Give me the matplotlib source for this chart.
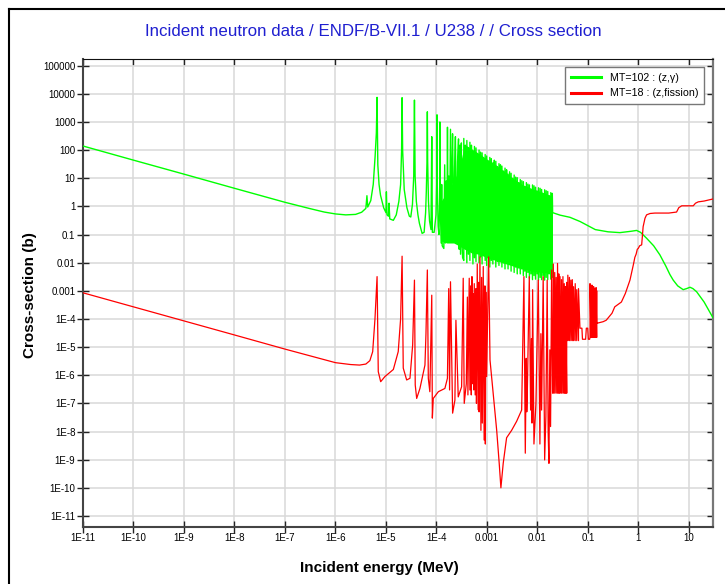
import numpy as np
import matplotlib
matplotlib.use('Agg')
import matplotlib.pyplot as plt
import matplotlib.lines as mlines
from matplotlib.lines import Line2D

plt.rcParams['font.family'] = ['Liberation Sans', 'DejaVu Sans']

# ---- MT=102 capture ----
# thermal 1/v range and the isolated low-lying resonances
cap_res_e = [1e-11, 1e-10, 1e-9, 1e-8, 1e-7, 3e-7, 6e-7, 1e-6, 1.6e-6, 2.5e-6,
             3.3e-6, 4.0e-6, 4.2e-6, 4.35e-6, 5.0e-6, 5.6e-6, 6.1e-6, 6.45e-6, 6.67e-6, 6.9e-6,
             7.3e-6, 7.8e-6, 9.0e-6, 1.0e-5, 1.02e-5, 1.05e-5, 1.12e-5, 1.15e-5, 1.19e-5, 1.4e-5,
             1.6e-5, 1.8e-5, 1.95e-5, 2.04e-5, 2.087e-5, 2.14e-5, 2.3e-5, 2.6e-5, 2.9e-5, 3.1e-5,
             3.35e-5, 3.55e-5, 3.668e-5, 3.78e-5, 4.0e-5, 4.3e-5, 4.6e-5, 5.2e-5, 5.7e-5, 6.1e-5,
             6.3e-5, 6.5e-5, 6.603e-5, 6.7e-5, 6.95e-5, 7.3e-5, 7.8e-5, 8.075e-5, 8.3e-5, 9.0e-5,
             9.8e-5, 1.015e-4, 1.025e-4, 1.035e-4, 1.08e-4, 1.12e-4, 1.16e-4, 1.169e-4, 1.18e-4, 1.24e-4,
             1.27e-4, 1.3e-4, 1.4e-4, 1.457e-4, 1.5e-4, 1.56e-4, 1.62e-4, 1.653e-4, 1.7e-4, 1.76e-4,
             1.82e-4, 1.897e-4, 1.96e-4, 2.02e-4, 2.085e-4, 2.2e-4, 2.29e-4, 2.374e-4, 2.5e-4, 2.62e-4,
             2.737e-4, 2.82e-4, 2.91e-4, 3.0e-4, 3.113e-4, 3.2e-4, 3.3e-4]
cap_res_xs = [140, 44, 14, 4.4, 1.4, 0.85, 0.63, 0.54, 0.5, 0.52,
              0.62, 0.85, 2.4, 0.95, 1.6, 6, 60, 400, 7500, 30,
              6, 2.5, 0.9, 0.6, 3.3, 0.5, 0.45, 1.3, 0.36, 0.32,
              0.5, 1.5, 6, 100, 7300, 100, 4, 0.9, 0.45, 0.42,
              1.2, 12, 6000, 12, 1.5, 0.5, 0.25, 0.11, 0.12, 0.6,
              3.5, 40, 2300, 40, 1.5, 0.3, 0.15, 300, 0.12, 0.12,
              0.5, 8, 1800, 8, 0.2, 0.1, 2, 1000, 2, 0.05,
              6, 0.04, 0.032, 30, 0.05, 8, 0.4, 650, 0.2, 12,
              0.15, 550, 0.09, 20, 380, 0.1, 25, 300, 0.05, 40,
              250, 0.03, 150, 0.02, 180, 0.05, 0.015]

# dense resolved resonances: dip and peak at each energy
band_e = [3.48e-4, 3.73e-4, 4.0e-4, 4.29e-4, 4.6e-4, 4.93e-4, 5.28e-4, 5.66e-4, 6.07e-4, 6.51e-4,
          6.98e-4, 7.48e-4, 8.02e-4, 8.6e-4, 9.22e-4, 9.88e-4, 1.06e-3, 1.14e-3, 1.22e-3, 1.31e-3,
          1.4e-3, 1.5e-3, 1.61e-3, 1.73e-3, 1.85e-3, 1.98e-3, 2.13e-3, 2.28e-3, 2.45e-3, 2.62e-3,
          2.81e-3, 3.01e-3, 3.23e-3, 3.46e-3, 3.71e-3, 3.98e-3, 4.27e-3, 4.57e-3, 4.9e-3, 5.26e-3,
          5.63e-3, 6.04e-3, 6.48e-3, 6.94e-3, 7.44e-3, 7.98e-3, 8.55e-3, 9.17e-3, 9.83e-3, 1.05e-2,
          1.13e-2, 1.21e-2, 1.3e-2, 1.39e-2, 1.49e-2, 1.6e-2, 1.71e-2, 1.84e-2, 1.97e-2]
band_top = [260, 150, 220, 120, 190, 150, 90, 135, 120, 70,
            100, 85, 80, 50, 70, 62, 40, 55, 50, 35,
            44, 40, 26, 33, 30, 27, 18, 23, 20, 14,
            17, 15, 10, 13, 11, 10.5, 7, 9, 8.2, 7.6,
            5, 7, 6.2, 5.8, 4, 5.8, 5.4, 4.8, 3.5, 4.6,
            4.4, 4.0, 2.8, 3.9, 3.6, 3.4, 2.4, 3.1, 2.9]
band_bot = [0.012, 0.04, 0.01, 0.02, 0.012, 0.03, 0.009, 0.015, 0.011, 0.025,
            0.01, 0.016, 0.009, 0.02, 0.012, 0.008, 0.015, 0.007, 0.012, 0.009,
            0.018, 0.007, 0.011, 0.008, 0.014, 0.007, 0.01, 0.006, 0.012, 0.006,
            0.009, 0.005, 0.008, 0.0045, 0.007, 0.004, 0.0065, 0.004, 0.006, 0.0035,
            0.005, 0.003, 0.0045, 0.0028, 0.004, 0.0025, 0.0035, 0.0026, 0.004, 0.0024,
            0.003, 0.0025, 0.0035, 0.0024, 0.003, 0.0025, 0.004, 0.0026, 0.003]

# solid core of the resonance region
core_e = [1.22e-4, 1.6e-4, 2.2e-4, 2.8e-4, 3.6e-4, 5e-4, 7e-4, 1e-3, 1.5e-3, 2e-3,
          3e-3, 5e-3, 8e-3, 1.2e-2, 1.97e-2]
core_hi = [1.5, 3, 8, 20, 160, 110, 75, 48, 30, 20,
           11, 6, 4.2, 3.3, 2.3]
core_lo = [0.06, 0.05, 0.05, 0.04, 0.03, 0.022, 0.02, 0.015, 0.012, 0.01,
           0.008, 0.006, 0.005, 0.0045, 0.0045]

# above the resolved range
cap_fast_e = [2.0e-2, 2.3e-2, 2.8e-2, 4.4e-2, 7e-2, 9.4e-2, 0.14, 0.25, 0.43, 0.7,
              0.92, 1.1, 1.45, 2.0, 2.66, 3.5, 4.2, 4.89, 6.0, 7.7,
              9.0, 10.5, 12, 14.2, 20, 30]
cap_fast_xs = [0.6, 0.55, 0.49, 0.41, 0.29, 0.22, 0.15, 0.125, 0.117, 0.13,
               0.14, 0.12, 0.074, 0.04, 0.019, 0.0075, 0.0038, 0.0024, 0.0015, 0.0011,
               0.0012, 0.00134, 0.0012, 0.00093, 0.0004, 1.1e-4]

# ---- MT=18 fission ----
fis_res_e = [1e-11, 1e-10, 1e-9, 1e-8, 1e-7, 1e-6, 2e-6, 3e-6, 4e-6, 4.8e-6,
             5.46e-6, 6.06e-6, 6.67e-6, 7.04e-6, 7.86e-6, 9.55e-6, 1.4e-5, 1.75e-5, 1.95e-5, 2.087e-5,
             2.2e-5, 2.57e-5, 2.99e-5, 3.38e-5, 3.668e-5, 3.8e-5, 4.06e-5, 4.71e-5, 5.92e-5, 6.2e-5,
             6.603e-5, 6.9e-5, 7.4e-5, 8.075e-5, 8.3e-5, 8.65e-5, 1.09e-4, 1.47e-4, 1.65e-4, 1.75e-4,
             1.82e-4, 1.897e-4, 2.09e-4, 2.32e-4, 2.43e-4, 2.7e-4, 3.15e-4, 3.39e-4, 3.55e-4, 3.9e-4,
             4.1e-4, 4.2e-4, 4.46e-4, 4.6e-4, 4.76e-4, 4.9e-4, 5.05e-4, 5.2e-4, 5.36e-4, 5.5e-4,
             5.61e-4, 5.85e-4, 6.06e-4, 6.2e-4, 6.43e-4, 6.7e-4, 6.85e-4, 7.0e-4, 7.27e-4, 7.6e-4,
             7.85e-4, 8.1e-4, 8.45e-4, 8.8e-4, 9.12e-4, 9.3e-4, 9.5e-4, 9.86e-4, 1.08e-3, 1.15e-3,
             1.33e-3, 1.56e-3, 1.75e-3, 1.89e-3, 2.1e-3, 2.45e-3, 3.08e-3, 3.87e-3, 4.87e-3, 5.4e-3,
             5.75e-3, 6.0e-3, 6.15e-3, 6.3e-3, 6.9e-3, 7.33e-3, 7.6e-3, 7.8e-3, 8.03e-3, 8.53e-3,
             9.34e-3, 1.04e-2, 1.12e-2, 1.17e-2, 1.21e-2, 1.3e-2, 1.39e-2, 1.47e-2, 1.56e-2, 1.63e-2,
             1.69e-2, 1.76e-2, 1.82e-2, 1.91e-2, 2.0e-2]
fis_res_xs = [8.5e-4, 2.7e-4, 8.5e-5, 2.7e-5, 8.5e-6, 2.8e-6, 2.4e-6, 2.3e-6, 2.5e-6, 3.3e-6,
              6.9e-6, 1e-4, 3.2e-3, 1.35e-6, 5.9e-7, 9e-7, 1.6e-6, 6.9e-6, 1e-4, 1.7e-2,
              1.8e-6, 6.8e-7, 7.8e-7, 1.2e-5, 2.4e-3, 4.5e-7, 1.5e-7, 3.4e-7, 2.3e-6, 3e-5,
              5.5e-3, 7.8e-7, 2.6e-7, 7e-4, 3e-8, 1.5e-7, 2.6e-7, 3.4e-7, 7.8e-7, 1.2e-3,
              3e-7, 2.1e-3, 4.5e-8, 1.3e-7, 9e-5, 1.7e-7, 3.9e-7, 2.8e-3, 1e-7, 5e-7,
              6e-4, 2e-7, 2.8e-3, 3e-7, 1.5e-3, 2e-7, 3.2e-3, 5e-7, 8e-4, 3e-7,
              1.8e-3, 2e-7, 1.2e-3, 1e-7, 9e-3, 6e-8, 2e-3, 5e-8, 1.6e-2, 1.1e-8,
              3e-3, 2e-8, 7.3e-3, 5e-9, 1.5e-3, 3.6e-9, 9e-4, 9e-7, 1.6e-2, 3.5e-6,
              2.3e-7, 1.1e-8, 7.4e-10, 1e-10, 7.4e-10, 6e-9, 1.1e-8, 2.3e-8, 5.8e-8, 3.2e-3,
              1.7e-9, 4e-6, 5e-8, 2.3e-7, 3.2e-3, 5.8e-8, 2e-5, 2e-8, 1.1e-3, 3.6e-9,
              1e-7, 2.4e-3, 3.6e-9, 3e-5, 5.8e-8, 3.2e-3, 9.8e-10, 3.4e-8, 2.4e-3, 1e-8,
              7.4e-10, 8e-6, 1.5e-8, 5.5e-3, 2.3e-7]

# unresolved range, drawn as blocks of spikes
urr1_e = [2.06e-2, 2.2e-2, 2.35e-2, 2.5e-2, 2.65e-2, 2.8e-2, 3.0e-2, 3.2e-2, 3.4e-2, 3.6e-2, 3.8e-2]
urr1_top = [9e-3, 4.5e-3, 3e-3, 9.4e-3, 4e-3, 3.2e-3, 2.5e-3, 3.2e-3, 1.8e-3, 1.4e-3, 2e-3]
urr1_bot = [2.3e-7, 2.3e-7, 2.3e-7, 2.3e-7, 2.3e-7, 2.3e-7, 2.3e-7, 2.3e-7, 2.3e-7, 2.3e-7, 2.3e-7]

urr2_e = [4.0e-2, 4.3e-2, 4.6e-2, 4.9e-2, 5.2e-2, 5.6e-2, 6.0e-2, 6.5e-2]
urr2_top = [3.6e-3, 3e-3, 2.4e-3, 2.5e-3, 1.4e-3, 1.8e-3, 1.1e-3, 1.2e-3]
urr2_bot = [1.7e-5, 1.7e-5, 1.7e-5, 1.7e-5, 1.7e-5, 1.7e-5, 1.7e-5, 1.7e-5]

fis_gap_e = [6.95e-2, 7.6e-2, 7.8e-2, 9.0e-2, 9.3e-2, 9.9e-2, 1.02e-1, 1.08e-1]
fis_gap_xs = [4.7e-5, 4.7e-5, 1.9e-5, 1.9e-5, 4.7e-5, 4.7e-5, 1.9e-5, 1.9e-5]

urr3_e = [1.1e-1, 1.15e-1, 1.2e-1, 1.25e-1, 1.3e-1, 1.35e-1, 1.4e-1, 1.45e-1, 1.49e-1]
urr3_top = [1.8e-3, 1.5e-3, 1.6e-3, 1.3e-3, 1.4e-3, 1.2e-3, 1.1e-3, 1.3e-3, 1.0e-3]
urr3_bot = [2.2e-5, 2.2e-5, 2.2e-5, 2.2e-5, 2.2e-5, 2.2e-5, 2.2e-5, 2.2e-5, 2.2e-5]

fis_fast_e = [0.149, 0.2, 0.23, 0.3, 0.34, 0.46, 0.55, 0.68, 0.8, 0.85,
              0.9, 0.95, 0.99, 1.06, 1.16, 1.24, 1.35, 1.45, 1.7, 2.12,
              4.0, 5.7, 6.3, 7.2, 12.2, 13.5, 15.3, 20, 30]
fis_fast_xs = [7e-5, 8e-5, 9e-5, 1.6e-4, 2.7e-4, 4e-4, 8e-4, 2.4e-3, 0.009, 0.0155,
               0.02, 0.03, 0.032, 0.04, 0.043, 0.19, 0.38, 0.5, 0.56, 0.58,
               0.58, 0.63, 0.9, 1.05, 1.05, 1.3, 1.45, 1.55, 1.84]

x_ticks = [1e-11, 1e-10, 1e-9, 1e-8, 1e-7, 1e-6, 1e-5, 1e-4, 1e-3, 1e-2, 1e-1, 1, 10]
x_labels = ['1E-11', '1E-10', '1E-9', '1E-8', '1E-7', '1E-6', '1E-5', '1E-4',
            '0.001', '0.01', '0.1', '1', '10']
y_ticks = [1e5, 1e4, 1e3, 1e2, 10, 1, 0.1, 0.01, 1e-3, 1e-4, 1e-5, 1e-6,
           1e-7, 1e-8, 1e-9, 1e-10, 1e-11]
y_labels = ['100000', '10000', '1000', '100', '10', '1', '0.1', '0.01', '0.001',
            '1E-4', '1E-5', '1E-6', '1E-7', '1E-8', '1E-9', '1E-10', '1E-11']


def spikes(e, top, bot):
    # vertical stroke from dip to peak at every energy
    x = np.repeat(e, 2)
    y = np.column_stack([bot, top]).ravel()
    return x, y


GREEN = '#00ff00'
RED = '#ff0000'

fig = plt.figure(figsize=(7.25, 5.84), dpi=100)
ax = fig.add_axes([83 / 725, 1 - 527 / 584, 630 / 725, 468 / 584])
ax.set_xscale('log')
ax.set_yscale('log')

# capture
bx, by = spikes(band_e, band_top, band_bot)
cap_x = np.concatenate([cap_res_e, bx, cap_fast_e])
cap_y = np.concatenate([cap_res_xs, by, cap_fast_xs])
ax.fill_between(core_e, core_lo, core_hi, color=GREEN, lw=0, zorder=2)
ax.plot(cap_x, cap_y, color=GREEN, lw=1.0, zorder=3)

# fission
u1x, u1y = spikes(urr1_e, urr1_top, urr1_bot)
u2x, u2y = spikes(urr2_e, urr2_top, urr2_bot)
u3x, u3y = spikes(urr3_e, urr3_top, urr3_bot)
fis_x = np.concatenate([fis_res_e, u1x, u2x, fis_gap_e, u3x, fis_fast_e])
fis_y = np.concatenate([fis_res_xs, u1y, u2y, fis_gap_xs, u3y, fis_fast_xs])
ax.plot(fis_x, fis_y, color=RED, lw=0.9, zorder=4)

ax.set_xlim(1e-11, 30)
ax.set_ylim(4.05e-12, 1.73e5)
ax.set_xticks(x_ticks, x_labels)
ax.set_yticks(y_ticks, y_labels)
ax.minorticks_off()
ax.grid(True, color='#d9d9d9', lw=1.1, zorder=0)
ax.set_axisbelow(True)

ax.tick_params(axis='both', which='major', direction='inout', length=8, width=1,
               color='#222222', labelsize=7, pad=1.5, top=True, right=True)
ax.tick_params(axis='x', pad=0.5)
# top and right ticks only point inwards
for t in ax.xaxis.get_major_ticks():
    t.tick2line.set_marker(mlines.TICKDOWN)
    t.tick2line.set_markersize(4)
for t in ax.yaxis.get_major_ticks():
    t.tick2line.set_marker(mlines.TICKLEFT)
    t.tick2line.set_markersize(4)

ax.spines['left'].set_color('#444444')
ax.spines['left'].set_linewidth(1.5)
ax.spines['bottom'].set_color('#444444')
ax.spines['bottom'].set_linewidth(1.5)
ax.spines['top'].set_color('#111111')
ax.spines['top'].set_linewidth(0.8)
ax.spines['right'].set_color('#777777')
ax.spines['right'].set_linewidth(1.6)

handles = [Line2D([], [], color=GREEN, lw=2.2), Line2D([], [], color=RED, lw=2.2)]
leg = ax.legend(handles, ['MT=102 : (z,\u03b3)', 'MT=18 : (z,fission)'],
                loc='upper right', bbox_to_anchor=(621 / 630, 460 / 468),
                borderaxespad=0, fontsize=7.7, handlelength=2.8, handletextpad=0.84,
                borderpad=0.56, labelspacing=0.5, fancybox=False, framealpha=1)
leg.get_frame().set_edgecolor('#777777')
leg.get_frame().set_linewidth(1.0)

fig.text(373 / 725, 1 - 32 / 584, 'Incident neutron data / ENDF/B-VII.1 / U238 / / Cross section',
         ha='center', va='center', fontsize=12.2, color='#1f1fd0')
fig.text(379 / 725, 1 - 568 / 584, 'Incident energy (MeV)', ha='center', va='center',
         fontsize=11, fontweight='bold')
fig.text(30 / 725, 1 - 295 / 584, 'Cross-section (b)', ha='center', va='center',
         fontsize=11, fontweight='bold', rotation=90)

# outer frame, left and top edges
fig.add_artist(Line2D([9 / 725, 9 / 725], [0, 1 - 9 / 584], transform=fig.transFigure,
                      color='black', lw=1.5))
fig.add_artist(Line2D([9 / 725, 1], [1 - 9 / 584, 1 - 9 / 584], transform=fig.transFigure,
                      color='black', lw=1.5))

fig.savefig('out.png', dpi=100)
